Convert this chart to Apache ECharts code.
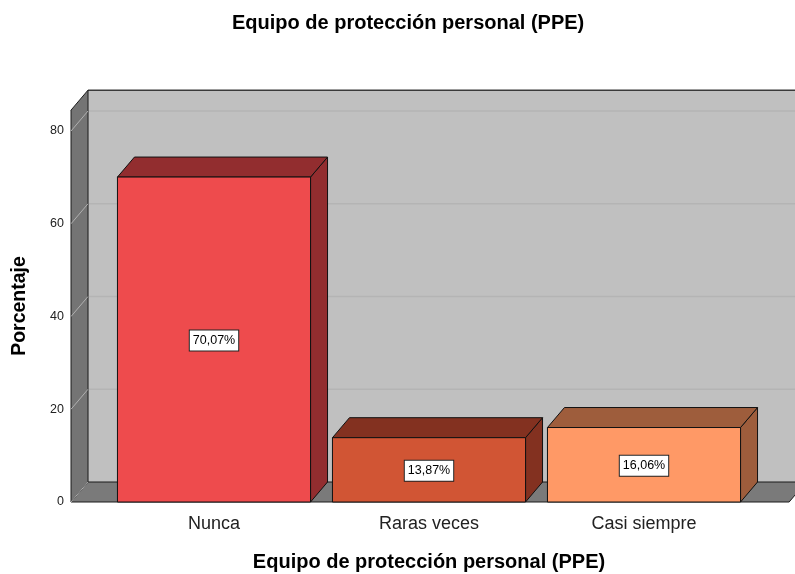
<!DOCTYPE html>
<html>
<head>
<meta charset="utf-8">
<script src="https://cdn.jsdelivr.net/npm/echarts@6/dist/echarts.min.js"></script>
<style>
html,body{margin:0;padding:0;background:#fff;}
#c{width:795px;height:574px;}
</style>
</head>
<body>
<div id="c"></div>
<script>
const titleText = 'Equipo de protección personal (PPE)';
const xTitle = 'Equipo de protección personal (PPE)';
const yTitle = 'Porcentaje';
const categories = ['Nunca', 'Raras veces', 'Casi siempre'];
const percentages = [70.07, 13.87, 16.06];
const valueLabels = ['70,07%', '13,87%', '16,06%'];
const yTicks = [0, 20, 40, 60, 80];

const frontColors = ['#ee4b4d', '#d15534', '#ff9966'];
const darkColors = ['#922d2f', '#833120', '#9e5d3c'];

const DX = 17, DY = -20;       // depth offset of the 3D frame (pixels)
const WALL_TOP = 84.5;          // value reached by the walls
const PAD_L = 0.165, PAD_R = 0.175; // frame extends beyond outer bands (in bands)
const BAR_FRAC = 0.898;

const chart = echarts.init(document.getElementById('c'));

function frameRender(params, api) {
  const band = api.size([1, 0])[0];
  const L = api.coord([0, 0])[0] - band * 0.5 - band * PAD_L;
  const R = api.coord([categories.length - 1, 0])[0] + band * 0.5 + band * PAD_R;
  const y0 = api.coord([0, 0])[1];
  const yT = api.coord([0, WALL_TOP])[1];
  const children = [];
  // back wall
  children.push({type: 'rect', shape: {x: L + DX, y: yT + DY, width: R - L + 40, height: y0 - yT},
    style: {fill: '#c0c0c0'}});
  // grid lines on back wall
  yTicks.forEach(function (v) {
    if (v === 0) return;
    const yy = api.coord([0, v])[1];
    children.push({type: 'line', shape: {x1: L + DX, y1: yy + DY, x2: R + DX + 40, y2: yy + DY},
      style: {stroke: '#b4b4b4', lineWidth: 1.5}});
  });
  // back wall top edge
  children.push({type: 'line', shape: {x1: L + DX, y1: yT + DY, x2: R + DX + 40, y2: yT + DY},
    style: {stroke: '#3a3a3a', lineWidth: 1.5}});
  // floor
  children.push({type: 'polygon', shape: {points: [[L, y0], [R, y0], [R + DX, y0 + DY], [L + DX, y0 + DY]]},
    style: {fill: '#7a7a7a', stroke: '#1a1a1a', lineWidth: 1}});
  // left wall
  children.push({type: 'polygon', shape: {points: [[L, yT], [L + DX, yT + DY], [L + DX, y0 + DY], [L, y0]]},
    style: {fill: '#747474', stroke: '#1a1a1a', lineWidth: 1}});
  // grid lines on left wall
  yTicks.forEach(function (v) {
    const yy = api.coord([0, v])[1];
    children.push({type: 'line', shape: {x1: L, y1: yy, x2: L + DX, y2: yy + DY},
      style: {stroke: '#b0b0b0', lineWidth: 1}});
  });
  return {type: 'group', children: children};
}

function barRender(params, api) {
  const i = api.value(0);
  const v = api.value(1);
  const c = api.coord([i, v]);
  const base = api.coord([i, 0]);
  const band = api.size([1, 0])[0];
  const w = band * BAR_FRAC;
  const x0 = c[0] - w / 2, x1 = c[0] + w / 2;
  const yT = c[1], y0 = base[1];
  const mid = api.coord([i, v / 2])[1];
  return {
    type: 'group',
    children: [
      {type: 'polygon', shape: {points: [[x1, yT], [x1 + DX, yT + DY], [x1 + DX, y0 + DY], [x1, y0]]},
        style: {fill: darkColors[i], stroke: '#111', lineWidth: 1}},
      {type: 'polygon', shape: {points: [[x0, yT], [x1, yT], [x1 + DX, yT + DY], [x0 + DX, yT + DY]]},
        style: {fill: darkColors[i], stroke: '#111', lineWidth: 1}},
      {type: 'rect', shape: {x: x0, y: yT, width: w, height: y0 - yT},
        style: {fill: frontColors[i], stroke: '#111', lineWidth: 1}},
      {type: 'text', x: c[0], y: mid + 1,
        style: {text: valueLabels[i], x: 0, y: 0, align: 'center', verticalAlign: 'middle',
          fontFamily: 'Liberation Sans', fontSize: 12.5, fill: '#000',
          backgroundColor: '#fff', borderColor: '#222', borderWidth: 1, padding: [4, 3, 3, 3]}}
    ]
  };
}

chart.setOption({
  animation: false,
  backgroundColor: '#fff',
  graphic: [
    {type: 'text', left: 409 - 177, top: 13,
      style: {text: titleText, fontFamily: 'Liberation Sans', fontWeight: 'bold', fontSize: 20, fill: '#000'}},
    {type: 'text', x: 20, y: 306, rotation: Math.PI / 2,
      style: {text: yTitle, x: 0, y: 0, align: 'center', verticalAlign: 'middle',
        fontFamily: 'Liberation Sans', fontWeight: 'bold', fontSize: 19.5, fill: '#000'}}
  ],
  grid: {left: 106.5, right: 43.5, top: 131, bottom: 72, outerBoundsMode: 'none', containLabel: false},
  xAxis: {
    type: 'category', data: categories, z: 10,
    axisLine: {show: false}, axisTick: {show: false}, splitLine: {show: false},
    axisLabel: {fontFamily: 'Liberation Sans', fontSize: 18, color: '#222', margin: 13},
    name: xTitle, nameLocation: 'middle', nameGap: 50,
    nameTextStyle: {fontFamily: 'Liberation Sans', fontWeight: 'bold', fontSize: 20, color: '#000'}
  },
  yAxis: {
    type: 'value', min: 0, max: 80, interval: 20, z: 10,
    axisLine: {show: false}, axisTick: {show: false}, splitLine: {show: false},
    axisLabel: {fontFamily: 'Liberation Sans', fontSize: 12.5, color: '#222', margin: 42.5,
      padding: [4, 0, 0, 0]}
  },
  series: [
    {type: 'custom', renderItem: frameRender, data: [[0, 0]], clip: false, z: 1, silent: true},
    {type: 'custom', renderItem: barRender, clip: false, z: 2,
      data: percentages.map(function (p, i) { return [i, p]; })}
  ]
});
</script>
</body>
</html>
